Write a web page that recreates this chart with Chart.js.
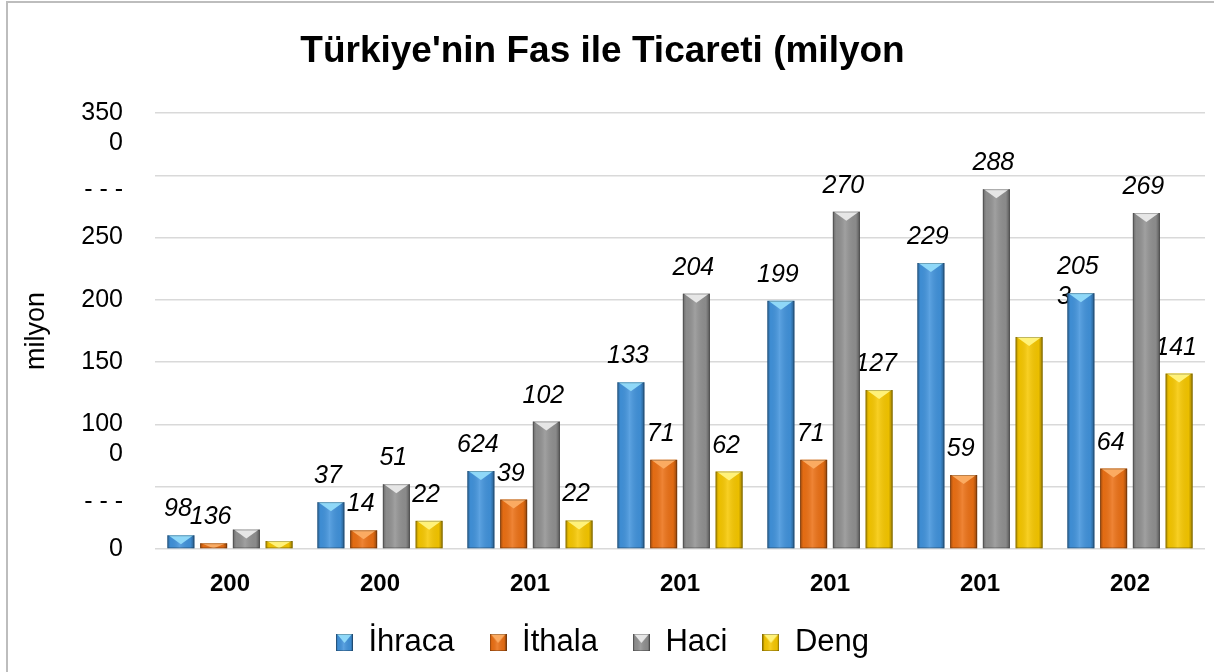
<!DOCTYPE html>
<html>
<head>
<meta charset="utf-8">
<script src="https://cdn.jsdelivr.net/npm/chart.js@4.4.1/dist/chart.umd.min.js"></script>
<style>
  html, body { margin: 0; padding: 0; background: #fff; overflow: hidden; }
  #frame { position: absolute; left: 6px; top: 1px; width: 1400px; height: 900px; border: 2px solid #bdbdbd; }
  #c { position: absolute; left: 0; top: 0; }
</style>
</head>
<body>
<div id="frame"></div>
<canvas id="c" width="1214" height="672"></canvas>
<script>
// DATA
const years = ["200", "200", "201", "201", "201", "201", "202"];
const seriesNames = ["İhraca", "İthala", "Haci", "Deng"];

const ihracat = [110, 376, 626, 1338, 1992, 2296, 2054];
const ithalat = [46, 150, 397, 716, 716, 594, 646];
const hacim = [156, 520, 1023, 2050, 2708, 2888, 2697];
const denge = [64, 226, 229, 622, 1276, 1702, 1408];

// value labels as they appear (cut off) in the picture
const ihracatText = ["98", "37", "624", "133", "199", "229", "205\n3"];
const ithalatText = ["136", "14", "39", "71", "71", "59", "64"];
const hacimText = ["", "51", "102", "204", "270", "288", "269"];
const dengeText = ["", "22", "22", "62", "127", "", "141"];

// y tick labels, 0 .. 3500 by 500
const yTickLabels = [["0"], [" ", "- - -"], [" ", "100", "0"], ["150"], ["200"], ["250"], [" ", "- - -"], [" ", "350", "0"]];

const FONT = '"Liberation Sans", Arial, sans-serif';

const colors = ["#4193dc", "#ec7014", "#919191", "#f7c800"];
const lights = ["#8fd8f8", "#fbab62", "#e6e6e6", "#fff27a"];
const valueTexts = [ihracatText, ithalatText, hacimText, dengeText];

// 3D-ish look for one bar
function paintBevel(ctx, l, top, w, h, light) {
  const r = l + w;
  const g = ctx.createLinearGradient(l, 0, r, 0);
  g.addColorStop(0, "rgba(0,0,0,0.30)");
  g.addColorStop(0.12, "rgba(0,0,0,0.04)");
  g.addColorStop(0.45, "rgba(255,255,255,0.14)");
  g.addColorStop(0.85, "rgba(0,0,0,0.05)");
  g.addColorStop(1, "rgba(0,0,0,0.38)");
  ctx.fillStyle = g;
  ctx.fillRect(l, top, w, h);
  const b = Math.min(9, h);
  ctx.beginPath();
  ctx.moveTo(l + 1, top);
  ctx.lineTo(r - 1, top);
  ctx.lineTo(l + w / 2, top + b);
  ctx.closePath();
  ctx.fillStyle = light;
  ctx.fill();
  ctx.strokeStyle = "rgba(0,0,0,0.25)";
  ctx.lineWidth = 1;
  ctx.strokeRect(l + 0.5, top + 0.5, w - 1, h - 1);
}

function legendIcon(i) {
  const cv = document.createElement("canvas");
  cv.width = 17; cv.height = 17;
  const c = cv.getContext("2d");
  c.fillStyle = colors[i];
  c.fillRect(0, 0, 17, 17);
  paintBevel(c, 0, 0, 17, 17, lights[i]);
  return cv;
}
const icons = colors.map((_, i) => legendIcon(i));

// labels sit under the bars, the bars cover parts of them
const valueLabels = {
  id: "valueLabels",
  beforeDatasetsDraw(chart) {
    const ctx = chart.ctx;
    ctx.save();
    ctx.font = "italic 25px " + FONT;
    ctx.fillStyle = "#000";
    ctx.textAlign = "left";
    ctx.textBaseline = "alphabetic";
    chart.data.datasets.forEach((ds, i) => {
      chart.getDatasetMeta(i).data.forEach((bar, j) => {
        const lines = valueTexts[i][j].split("\n");
        if (!lines[0]) return;
        const left = bar.x - 3 - ctx.measureText(lines[0]).width / 2;
        lines.forEach((t, k) => ctx.fillText(t, left, bar.y - 19 + k * 30));
      });
    });
    ctx.restore();
  }
};

const bevels = {
  id: "bevels",
  afterDatasetsDraw(chart) {
    const ctx = chart.ctx;
    ctx.save();
    chart.data.datasets.forEach((ds, i) => {
      chart.getDatasetMeta(i).data.forEach(bar => {
        const h = bar.base - bar.y;
        if (h <= 0) return;
        paintBevel(ctx, bar.x - bar.width / 2, bar.y, bar.width, h, lights[i]);
      });
    });
    ctx.restore();
  }
};

const allData = [ihracat, ithalat, hacim, denge];

new Chart(document.getElementById("c"), {
  type: "bar",
  data: {
    labels: years,
    datasets: allData.map((d, i) => ({
      label: seriesNames[i],
      data: d,
      backgroundColor: colors[i],
      borderWidth: 0,
      categoryPercentage: 0.873,
      barPercentage: 0.826
    }))
  },
  options: {
    responsive: false,
    animation: false,
    devicePixelRatio: 1,
    layout: { padding: { left: 0, right: 9, top: 0, bottom: 4 } },
    plugins: {
      title: {
        display: true,
        text: "Türkiye'nin Fas ile Ticareti (milyon",
        color: "#000",
        font: { family: FONT, size: 37, weight: "bold" },
        padding: { top: 30, bottom: 38.6 }
      },
      legend: {
        position: "bottom",
        labels: {
          color: "#000",
          font: { family: FONT, size: 31 },
          boxWidth: 17,
          boxHeight: 17,
          padding: 35,
          usePointStyle: true,
          generateLabels(chart) {
            return Chart.defaults.plugins.legend.labels.generateLabels(chart).map((it, i) => {
              it.pointStyle = icons[i];
              return it;
            });
          }
        }
      },
      tooltip: { enabled: false }
    },
    scales: {
      x: {
        grid: { display: false },
        border: { display: false },
        ticks: {
          color: "#000",
          font: { family: FONT, size: 24, weight: "bold" },
          padding: 13,
          maxRotation: 0,
          autoSkip: false
        },
        afterFit(s) { s.height = 43; }
      },
      y: {
        min: 0,
        max: 3500,
        border: { display: false },
        grid: { color: "#d9d9d9", lineWidth: 1.5, drawTicks: false },
        ticks: {
          stepSize: 500,
          autoSkip: false,
          color: "#000",
          font: { family: FONT, size: 25 },
          padding: 32,
          callback: (v, i) => yTickLabels[i]
        },
        title: {
          display: true,
          text: "milyon",
          color: "#000",
          font: { family: FONT, size: 27 },
          padding: { top: 20, bottom: 0 }
        },
        afterFit(s) { s.width = 155; }
      }
    }
  },
  plugins: [valueLabels, bevels]
});
</script>
</body>
</html>
